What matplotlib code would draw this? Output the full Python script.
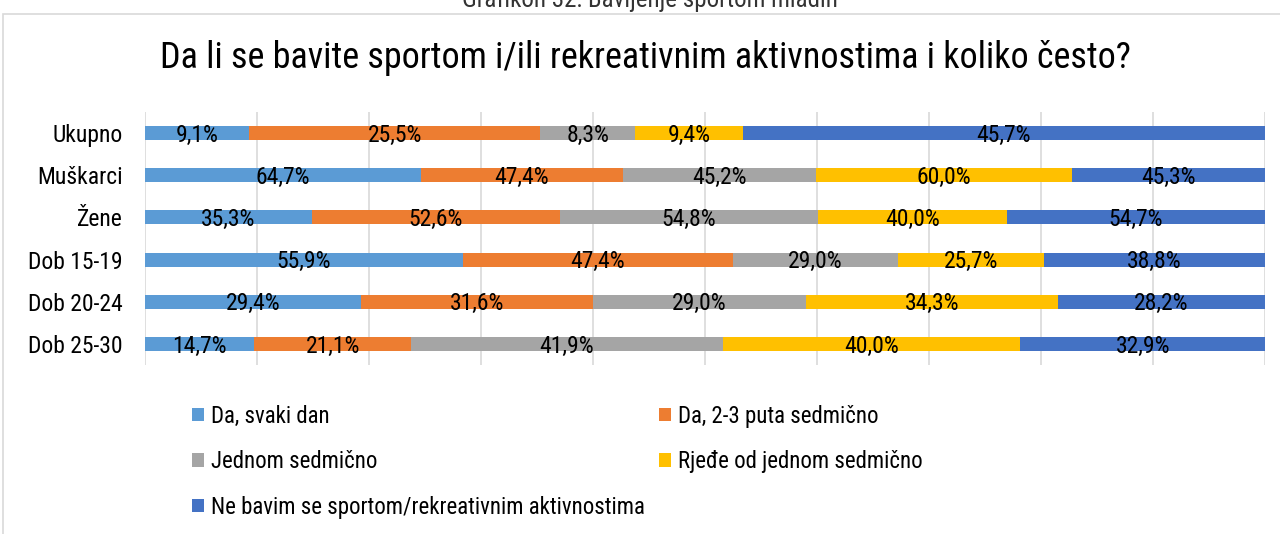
import matplotlib.pyplot as plt
from matplotlib import font_manager
from matplotlib.patches import Rectangle
import numpy as np

categories = ["Ukupno", "Muškarci", "Žene", "Dob 15-19", "Dob 20-24", "Dob 25-30"]
series_names = [
    "Da, svaki dan",
    "Da, 2-3 puta sedmično",
    "Jednom sedmično",
    "Rjeđe od jednom sedmično",
    "Ne bavim se sportom/rekreativnim aktivnostima",
]
svaki_dan = [9.1, 64.7, 35.3, 55.9, 29.4, 14.7]
dva_tri_puta = [25.5, 47.4, 52.6, 47.4, 31.6, 21.1]
jednom = [8.3, 45.2, 54.8, 29.0, 29.0, 41.9]
rjedje = [9.4, 60.0, 40.0, 25.7, 34.3, 40.0]
ne_bavim = [45.7, 45.3, 54.7, 38.8, 28.2, 32.9]
colors = ["#5B9BD5", "#ED7D31", "#A5A5A5", "#FFC000", "#4472C4"]

# pick a narrow font if one is around
available = {f.name for f in font_manager.fontManager.ttflist}
family = "DejaVu Sans"
for cand in ["Liberation Sans Narrow", "DejaVu Sans Condensed", "Roboto Condensed", "Open Sans Condensed"]:
    if cand in available:
        family = cand
        break
plt.rcParams["font.family"] = [family, "DejaVu Sans"]

fig = plt.figure(figsize=(12.8, 5.34), dpi=100)
ax = fig.add_axes([145 / 1280, 1 - 365 / 534, 1120 / 1280, 253 / 534])

# outer chart frame
fig.patches.append(Rectangle((3 / 1280, -0.1), 1.2, 1 - 14 / 534 + 0.1,
                             transform=fig.transFigure, fill=False,
                             edgecolor="#D9D9D9", linewidth=1.2))

data = np.array([svaki_dan, dva_tri_puta, jednom, rjedje, ne_bavim])
shares = data / data.sum(axis=0) * 100
y = np.arange(len(categories))
left = np.zeros(len(categories))
for i, name in enumerate(series_names):
    ax.barh(y, shares[i], left=left, height=0.33, color=colors[i], label=name, zorder=3)
    for j in range(len(categories)):
        ax.text(left[j] + shares[i][j] / 2, y[j] + 0.05, f"{data[i][j]:.1f}%".replace(".", ","),
                ha="center", va="center", fontsize=17, color="#000000", zorder=4)
    left += shares[i]

ax.set_xlim(0, 100)
ax.set_ylim(len(categories) - 0.5, -0.5)
ax.set_xticks(np.arange(0, 101, 10))
ax.tick_params(axis="x", length=0, labelbottom=False)
ax.tick_params(axis="y", length=0, pad=16, labelsize=17)
ax.set_yticks(y)
ax.set_yticklabels(categories)
ax.grid(axis="x", color="#D9D9D9", linewidth=1.2, zorder=0)
for s in ax.spines.values():
    s.set_visible(False)

fig.text(0.504, 1 - 58 / 534, "Da li se bavite sportom i/ili rekreativnim aktivnostima i koliko često?",
         ha="center", va="center", fontsize=26, color="#000000")
fig.text(0.508, 1.0, "Grafikon 32: Bavljenje sportom mladih", ha="center", va="center",
         fontsize=18, color="#333333")

# row-wise legend order like the reference
handles, labels = ax.get_legend_handles_labels()
order = [0, 2, 4, 1, 3]
fig.legend([handles[k] for k in order], [labels[k] for k in order], loc="upper left",
           bbox_to_anchor=(171 / 1280, 1 - 384 / 534),
           ncol=2, frameon=False, fontsize=16.5, handlelength=0.55, handleheight=0.55,
           handletextpad=0.3, columnspacing=0.6, labelspacing=0.98)

fig.savefig("out.png", dpi=100)
